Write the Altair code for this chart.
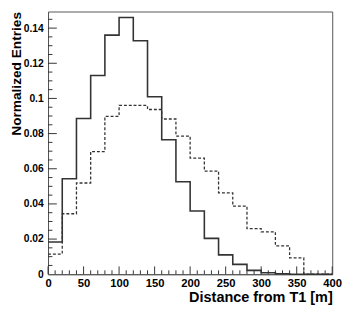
import altair as alt
import pandas as pd

# Bin left edges (20 m bins) and final right edge
bin_edges = [0, 20, 40, 60, 80, 100, 120, 140, 160, 180, 200, 220, 240, 260,
             280, 300, 320, 340, 360, 380, 400]
solid_vals = [0.0183, 0.0543, 0.0886, 0.113, 0.136, 0.146, 0.1328, 0.101,
              0.0765, 0.0526, 0.036, 0.0204, 0.011, 0.0056, 0.0022, 0.0008,
              0.0003, 0.0, 0.0, 0.0]
dashed_vals = [0.0115, 0.0344, 0.0519, 0.0698, 0.0898, 0.0961, 0.096, 0.0937,
               0.0883, 0.0786, 0.0661, 0.0587, 0.0463, 0.0387, 0.026, 0.0241,
               0.0161, 0.0093, 0.0, 0.0]

x_major = [0, 50, 100, 150, 200, 250, 300, 350, 400]
x_minor = [10, 20, 30, 40, 60, 70, 80, 90, 110, 120, 130, 140, 160, 170, 180,
           190, 210, 220, 230, 240, 260, 270, 280, 290, 310, 320, 330, 340,
           360, 370, 380, 390]
y_labels = [0, 0.02, 0.04, 0.06, 0.08, 0.1, 0.12, 0.14]
y_major = [0.02, 0.04, 0.06, 0.08, 0.1, 0.12, 0.14]
y_minor = [0.005, 0.01, 0.015, 0.025, 0.03, 0.035, 0.045, 0.05, 0.055,
           0.065, 0.07, 0.075, 0.085, 0.09, 0.095, 0.105, 0.11, 0.115,
           0.125, 0.13, 0.135, 0.145]

W, H = 291, 269
FONT = "Liberation Sans"


def step_frame(vals):
    xs = bin_edges[:-1] + [bin_edges[-1]]
    ys = list(vals) + [vals[-1]]
    return pd.DataFrame({"x": xs, "y": ys})


xscale = alt.Scale(domain=[0, 400], nice=False, zero=False)
yscale = alt.Scale(domain=[0, 0.14944], nice=False, zero=False)

x_axis = alt.Axis(values=x_major, title="Distance from T1 [m]", grid=False,
                  ticks=False, tickSize=0, domainColor="#555", domainWidth=1,
                  labelFont=FONT, labelFontWeight="bold", labelFontSize=11.5,
                  labelColor="black", labelPadding=4, labelFlush=False,
                  labelOverlap=False,
                  titleFont=FONT, titleFontWeight="bold", titleFontSize=14.8,
                  titleColor="black", titleAlign="right", titleAnchor="end",
                  titleX=W, titleY=28, titleBaseline="alphabetic")
y_axis = alt.Axis(values=y_labels, format="~g", title="Normalized Entries",
                  grid=False, ticks=False, tickSize=0, domainColor="#555",
                  domainWidth=1, labelFont=FONT, labelFontWeight="bold",
                  labelFontSize=10.5, labelColor="black", labelPadding=5,
                  labelOverlap=False,
                  titleFont=FONT, titleFontWeight="bold", titleFontSize=14,
                  titleColor="black", titleAngle=270, titleAlign="right",
                  titleAnchor="end", titleX=-28, titleY=0,
                  titleBaseline="alphabetic")

X = alt.X("x:Q", scale=xscale, axis=x_axis)
Y = alt.Y("y:Q", scale=yscale, axis=y_axis)

solid = alt.Chart(step_frame(solid_vals)).mark_line(
    interpolate="step-after", color="#333", strokeWidth=1.6
).encode(x=X, y=Y)

dashed = alt.Chart(step_frame(dashed_vals)).mark_line(
    interpolate="step-after", color="#333", strokeWidth=1.3, strokeDash=[3, 2]
).encode(x=X, y=Y)


def yticks(vals, length):
    return alt.Chart(pd.DataFrame({"y": vals})).mark_rule(
        color="#333", strokeWidth=1
    ).encode(y=Y, x=alt.value(0), x2=alt.value(length))


def xticks(vals, length):
    return alt.Chart(pd.DataFrame({"x": vals})).mark_rule(
        color="#333", strokeWidth=1
    ).encode(x=X, y=alt.value(H), y2=alt.value(H - length))


chart = alt.layer(
    solid, dashed,
    yticks(y_major, 9), yticks(y_minor, 4.5),
    xticks(x_major, 8), xticks(x_minor, 4),
).properties(
    width=W, height=H, background="white",
    autosize=alt.AutoSizeParams(type="none"),
    padding={"left": 41, "top": 0, "right": 10, "bottom": 32},
).configure_view(
    stroke="#555", strokeWidth=1
)

chart.save("out.html", embed_options={"renderer": "svg", "actions": False})
